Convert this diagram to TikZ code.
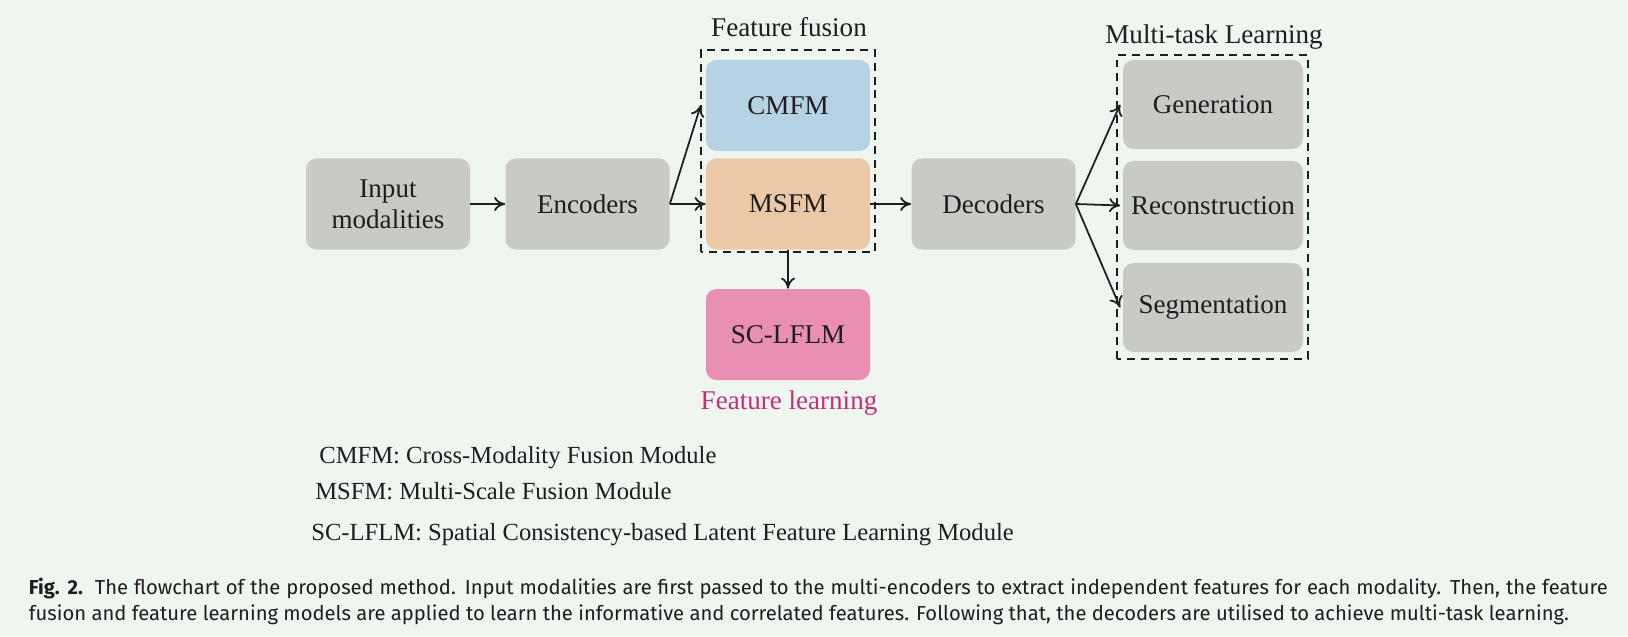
\documentclass[tikz,border=0pt]{standalone}
\usepackage{fontspec}
\setmainfont{Liberation Serif}
\newfontfamily\capfont{Fira Sans}
\usepackage{xcolor}
\definecolor{fbg}{RGB}{239,245,239}
\definecolor{fgray}{RGB}{200,203,197}
\definecolor{fblue}{RGB}{181,211,227}
\definecolor{fpeach}{RGB}{236,201,166}
\definecolor{fpink}{RGB}{233,143,179}
\definecolor{fmagenta}{RGB}{196,48,118}
\definecolor{ftext}{RGB}{30,30,30}
\usetikzlibrary{arrows.meta}

\tikzset{
  modbox/.style={fill=fgray, rounded corners=6pt, minimum width=3.28cm, minimum height=1.82cm,
                 align=center, text=ftext, font=\fontsize{15.4}{17.5}\selectfont, inner sep=2pt},
  taskbox/.style={modbox, minimum width=3.6cm, minimum height=1.78cm},
  flow/.style={-{To[length=2.2mm,width=2.8mm]}, line width=1pt, draw=ftext},
  groupbox/.style={draw=ftext, line width=1pt, dash pattern=on 4.5pt off 3.4pt},
  grouplabel/.style={font=\fontsize{15.4}{17.5}\selectfont, text=ftext},
  legend/.style={anchor=west, font=\fontsize{14}{16}\selectfont, text=ftext, inner sep=0pt},
}

\begin{document}
\begin{tikzpicture}

% background and page size
\fill[fbg] (0,0) rectangle (32.56,12.72);
\useasboundingbox (0,0) rectangle (32.56,12.72);

% --- Input and encoders ---
\node[modbox] (input) at (7.76,8.64) {Input\\modalities};
\node[modbox] (enc) at (11.75,8.64) {Encoders};

% --- Feature fusion ---
\draw[groupbox] (14.02,7.68) rectangle (17.5,11.72);
\node[grouplabel] (fuslabel) at (15.78,12.18) {Feature fusion};
\node[modbox, fill=fblue] (cmfm) at (15.76,10.61) {CMFM};
\node[modbox, fill=fpeach] (msfm) at (15.76,8.64) {MSFM};

% --- Feature learning ---
\node[modbox, fill=fpink] (sclflm) at (15.76,6.03) {SC-LFLM};
\node[grouplabel, text=fmagenta] (learnlabel) at (15.78,4.66) {Feature learning};

% --- Decoders ---
\node[modbox] (dec) at (19.87,8.64) {Decoders};

% --- Multi-task learning ---
\draw[groupbox] (22.34,5.54) rectangle (26.16,11.62);
\node[grouplabel] (tasklabel) at (24.28,11.98) {Multi-task Learning};
\node[taskbox] (gen) at (24.26,10.63) {Generation};
\node[taskbox] (rec) at (24.26,8.61) {Reconstruction};
\node[taskbox] (seg) at (24.26,6.57) {Segmentation};

% arrows
\draw[flow] (input) -- (enc);
\draw[flow] (enc.east) -- ([xshift=-1mm]cmfm.west);
\draw[flow] (enc.east) -- (msfm.west);
\draw[flow] (msfm.south) -- (sclflm.north);
\draw[flow] (msfm.east) -- (dec.west);
\draw[flow] (dec.east) -- ([xshift=-0.5mm]gen.west);
\draw[flow] (dec.east) -- ([xshift=-0.5mm]rec.west);
\draw[flow] (dec.east) -- ([xshift=-0.5mm]seg.west);

% legend
\node[legend] (leg1) at (6.38,3.56) {CMFM: Cross-Modality Fusion Module};
\node[legend] (leg2) at (6.30,2.90) {MSFM: Multi-Scale Fusion Module};
\node[legend] (leg3) at (6.22,2.02) {SC-LFLM: Spatial Consistency-based Latent Feature Learning Module};

% caption
\node[anchor=north west, align=justify, text width=31.58cm, inner sep=0pt, text=ftext,
      font=\capfont\fontsize{11.5}{15.2}\selectfont] (caption) at (0.57,1.17)
  {\textbf{Fig. 2.}\ \ The flowchart of the proposed method. Input modalities are first passed to the multi-encoders to extract independent features for each modality. Then, the feature\linebreak
   fusion and feature learning models are applied to learn the informative and correlated features. Following that, the decoders are utilised to achieve multi-task learning.};

\end{tikzpicture}
\end{document}
